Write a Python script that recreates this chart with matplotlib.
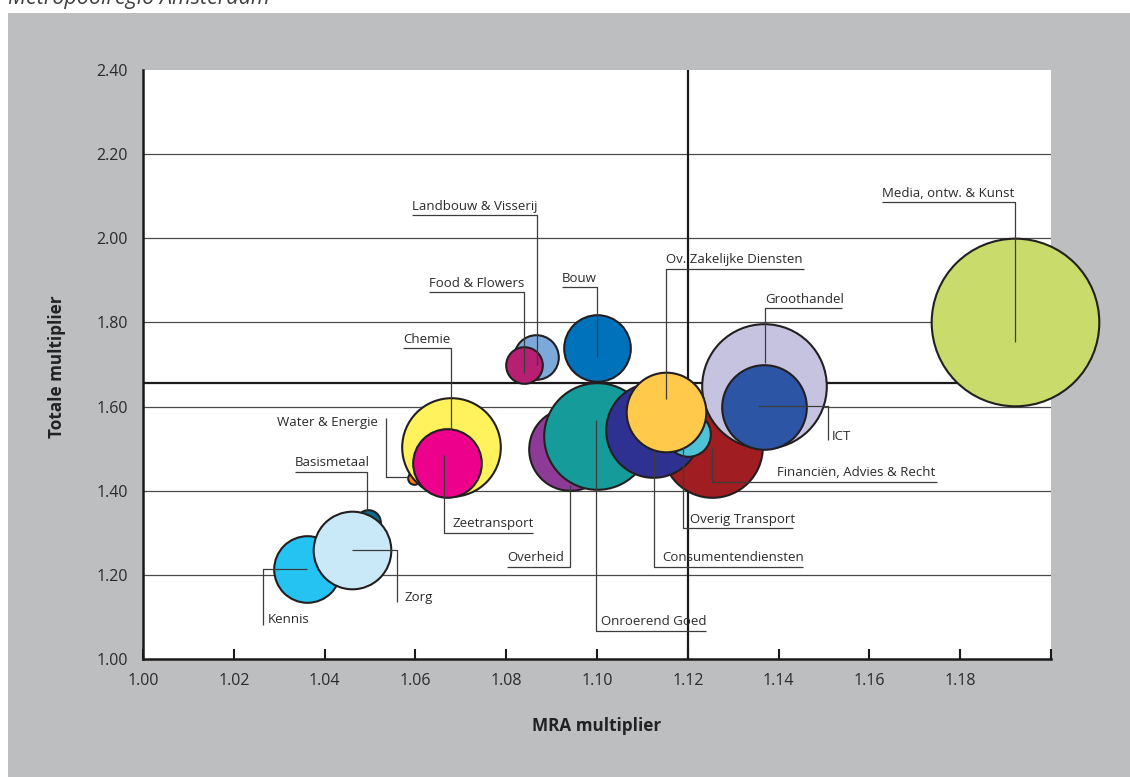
import matplotlib
matplotlib.use('Agg')
import matplotlib.pyplot as plt
from matplotlib.patches import Rectangle

plt.rcParams['font.family'] = ['Open Sans', 'DejaVu Sans']

# ---------------- data ----------------
sectors = ['Media, ontw. & Kunst', 'Landbouw & Visserij', 'Food & Flowers', 'Bouw',
           'Overheid', 'Onroerend Goed', 'Financiën, Advies & Recht', 'Groothandel',
           'ICT', 'Consumentendiensten', 'Overig Transport', 'Ov. Zakelijke Diensten',
           'Water & Energie', 'Chemie', 'Zeetransport', 'Basismetaal', 'Kennis', 'Zorg']
mra_multiplier = [1.192, 1.0865, 1.0839, 1.100,
                  1.094, 1.100, 1.1253, 1.1368,
                  1.1368, 1.1123, 1.120, 1.1153,
                  1.0597, 1.0678, 1.067, 1.0496, 1.0361, 1.0461]
totale_multiplier = [1.800, 1.717, 1.700, 1.739,
                     1.499, 1.530, 1.504, 1.649,
                     1.600, 1.544, 1.535, 1.588,
                     1.430, 1.504, 1.466, 1.326, 1.214, 1.258]
bubble_size = [84.5, 23, 19, 34,
               42, 54, 51, 63,
               43, 48, 23, 40.5,
               7, 50, 35, 13, 34, 39.5]

x_ticks = [1.00, 1.02, 1.04, 1.06, 1.08, 1.10, 1.12, 1.14, 1.16, 1.18, 1.20]
x_tick_labels = ['1.00', '1.02', '1.04', '1.06', '1.08', '1.10', '1.12', '1.14', '1.16', '1.18', '']
y_ticks = [1.00, 1.20, 1.40, 1.60, 1.80, 2.00, 2.20, 2.40]
y_tick_labels = ['1.00', '1.20', '1.40', '1.60', '1.80', '2.00', '2.20', '2.40']
avg_mra = 1.12
avg_totale = 1.656

# ---------------- style ----------------
colors = ['#C9DC6B', '#7DA8DA', '#B61F72', '#0072BC',
          '#8E3A97', '#169B9B', '#A01D22', '#C6C3E1',
          '#2D55A5', '#2E3192', '#4EC3D5', '#FFC94B',
          '#F58220', '#FFF25C', '#EC008C', '#0D6D8C', '#25C3F1', '#C9E9F8']

# leader paths and label placement (layout)
leaders = {
    'Media, ontw. & Kunst': ([(1.192, 1.753), (1.192, 2.086), (1.1628, 2.086)], (1.1628, 2.086, 'left', 'baseline')),
    'Landbouw & Visserij': ([(1.0868, 1.699), (1.0868, 2.055), (1.0593, 2.055)], (1.0593, 2.055, 'left', 'baseline')),
    'Food & Flowers': ([(1.0839, 1.680), (1.0839, 1.872), (1.063, 1.872)], (1.063, 1.872, 'left', 'baseline')),
    'Bouw': ([(1.100, 1.718), (1.100, 1.884), (1.0923, 1.884)], (1.0923, 1.884, 'left', 'baseline')),
    'Overheid': ([(1.094, 1.414), (1.094, 1.219), (1.0802, 1.219)], (1.0802, 1.219, 'left', 'baseline')),
    'Onroerend Goed': ([(1.0998, 1.568), (1.0998, 1.0666), (1.124, 1.0666)], (1.1009, 1.0666, 'left', 'baseline')),
    'Financiën, Advies & Recht': ([(1.1253, 1.504), (1.1253, 1.421), (1.1749, 1.421)], (1.1745, 1.421, 'right', 'baseline')),
    'Groothandel': ([(1.137, 1.704), (1.137, 1.834), (1.154, 1.834)], (1.137, 1.834, 'left', 'baseline')),
    'ICT': ([(1.1355, 1.601), (1.1509, 1.601), (1.1509, 1.5206)], (1.1518, 1.530, 'left', 'center')),
    'Consumentendiensten': ([(1.1126, 1.497), (1.1126, 1.219), (1.1454, 1.219)], (1.1143, 1.219, 'left', 'baseline')),
    'Overig Transport': ([(1.1189, 1.504), (1.1189, 1.311), (1.1432, 1.311)], (1.1205, 1.311, 'left', 'baseline')),
    'Ov. Zakelijke Diensten': ([(1.1152, 1.618), (1.1152, 1.927), (1.1456, 1.927)], (1.1152, 1.927, 'left', 'baseline')),
    'Water & Energie': ([(1.0535, 1.573), (1.0535, 1.433), (1.0584, 1.433)], (1.0518, 1.561, 'right', 'center')),
    'Chemie': ([(1.0678, 1.544), (1.0678, 1.739), (1.0573, 1.739)], (1.0573, 1.739, 'left', 'baseline')),
    'Zeetransport': ([(1.0663, 1.485), (1.0663, 1.2995), (1.0859, 1.2995)], (1.0681, 1.2995, 'left', 'baseline')),
    'Basismetaal': ([(1.0335, 1.4445), (1.0493, 1.4445), (1.0493, 1.354)], (1.0335, 1.4445, 'left', 'baseline')),
    'Kennis': ([(1.0361, 1.214), (1.0264, 1.214), (1.0264, 1.081)], (1.0275, 1.093, 'left', 'center')),
    'Zorg': ([(1.046, 1.259), (1.0559, 1.259), (1.0559, 1.1355)], (1.0577, 1.145, 'left', 'center')),
}

W, H = 1130, 777
fig = plt.figure(figsize=(W / 100, H / 100), dpi=100)
fig.patch.set_facecolor('white')
bg = Rectangle((8 / W, 0), 1 - 8 / W, (H - 13) / H, transform=fig.transFigure,
               facecolor='#BDBEC0', edgecolor='none', zorder=-10)
fig.add_artist(bg)
fig.text(8 / W, 1 - 4 / H, 'Metropoolregio Amsterdam', fontsize=15.5, style='italic',
         color='#404040', ha='left', va='baseline')

ax = fig.add_axes([143 / W, (H - 659) / H, (1051 - 143) / W, (659 - 70) / H])
ax.set_zorder(1)
ax.set_facecolor('white')
ax.set_xlim(1.00, 1.20)
ax.set_ylim(1.00, 2.40)

# grid lines
for yv in y_ticks[1:-1]:
    ax.axhline(yv, color='#4a4a4a', lw=0.9, zorder=1)
ax.axhline(avg_totale, color='#1a1a1a', lw=1.6, zorder=1.5)
ax.axvline(avg_mra, color='#1a1a1a', lw=1.6, zorder=1.5)

for i, (name, xv, yv, sz, c) in enumerate(zip(sectors, mra_multiplier, totale_multiplier, bubble_size, colors)):
    ax.scatter([xv], [yv], s=(1.44 * sz - 1.0) ** 2, color=c, edgecolor='#231F20',
               linewidth=1.5, zorder=3 + i * 0.01, clip_on=False)

for name in sectors:
    path, (tx, ty, ha, va) = leaders[name]
    xs = [p[0] for p in path]
    ys = [p[1] for p in path]
    ax.plot(xs, ys, color='#3c3c3c', lw=0.9, zorder=4, solid_capstyle='butt')
    dy = 4 if va == 'baseline' else 0
    ax.annotate(name, (tx, ty), xytext=(0, dy), textcoords='offset points',
                ha=ha, va=va, fontsize=9.5, color='#2b2b2b', zorder=5)

ax.set_xticks(x_ticks)
ax.set_xticklabels(x_tick_labels)
ax.set_yticks(y_ticks)
ax.set_yticklabels(y_tick_labels)
ax.tick_params(axis='x', direction='in', length=7, width=1.5, color='#1a1a1a',
               labelsize=11.5, labelcolor='#2b2b2b', pad=10)
ax.tick_params(axis='y', length=0, labelsize=11.5, labelcolor='#2b2b2b', pad=11)

for s in ['top', 'right']:
    ax.spines[s].set_visible(False)
for s in ['left', 'bottom']:
    ax.spines[s].set_linewidth(1.8)
    ax.spines[s].set_color('#1a1a1a')

ax.set_xlabel('MRA multiplier', fontsize=12.3, fontweight='bold', color='#222222')
ax.set_ylabel('Totale multiplier', fontsize=12.3, fontweight='bold', color='#222222')
ax.xaxis.set_label_coords(0.5, (659 - 717) / (659 - 70))
ax.yaxis.set_label_coords((66 - 143) / (1051 - 143), 0.497)

fig.savefig('out.png', dpi=100)
